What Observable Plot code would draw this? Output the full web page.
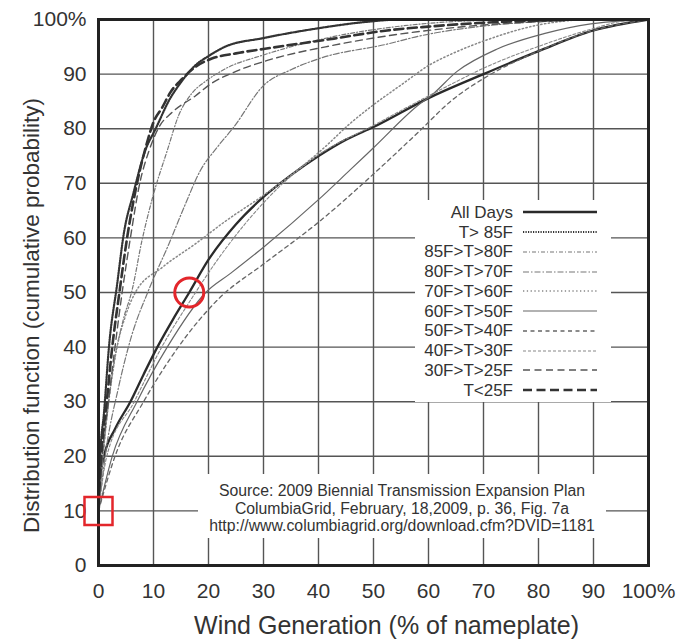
<!DOCTYPE html>
<html><head><meta charset="utf-8">
<script src="https://cdn.jsdelivr.net/npm/d3@7"></script>
<script src="https://cdn.jsdelivr.net/npm/@observablehq/plot@0.6"></script>
<style>
body{margin:0;background:#fff;font-family:"Liberation Sans",Arial,sans-serif;}
#wrap{position:relative;width:690px;height:643px;overflow:hidden;}
.box{position:absolute;background:#fff;color:#333;}
.lg-label{position:absolute;right:98px;white-space:nowrap;font-size:17px;line-height:17px;text-align:right;}
.lg-line{position:absolute;}
.src{position:absolute;left:0;width:100%;text-align:center;font-size:15.8px;line-height:18px;white-space:nowrap;}
</style></head>
<body><div id="wrap"></div>
<script>
// ---- data ----
const xTicks = [0,10,20,30,40,50,60,70,80,90,100];
const yTicks = [0,10,20,30,40,50,60,70,80,90,100];
const seriesNames = ["All Days","T> 85F","85F>T>80F","80F>T>70F","70F>T>60F","60F>T>50F","50F>T>40F","40F>T>30F","30F>T>25F","T<25F"];

const allDays = [[0,10],[0.3,16],[1,20],[3,25],[5.8,30],[8.2,35],[10.7,40],[13.5,45],[16.5,50],[20,56],[25,62.5],[30,67.5],[35,71.5],[40,75],[45,78],[50,80.3],[60,85.6],[70,90],[80,94.2],[90,98],[100,100]];
const tOver85 = [[0,12],[0.3,20],[1,28],[1.9,40],[3.4,51.6],[4.6,60.8],[6.3,68],[8.5,76],[10.4,80],[13,85.5],[15,88.5],[17.6,91.6],[20,93.3],[23,95],[30,96.6],[40,98.4],[49,99.6],[55,100],[100,100]];
const t85to80 = [[0,10],[1,22],[2.5,35],[4.5,45],[6.1,50.4],[7.9,59.5],[10,68],[12.5,76],[14.6,82.5],[17,86.5],[19.5,88.7],[23.1,91],[30,93.5],[41,96.5],[55,98.8],[70,99.8],[100,100]];
const t80to70 = [[0,10],[1.5,22],[3.5,32],[6,42],[9.1,50.4],[12.8,58.9],[15.8,66.2],[18.5,72.3],[21.5,76.5],[24.6,80.3],[30,87.9],[35,90.8],[40,92.8],[52.5,95.5],[58.5,97],[70,98.8],[80,99.6],[90,100],[100,100]];
const t70to60 = [[0,10],[1,22],[3,38],[5,46],[6.7,50],[11.6,54.6],[17.6,58.9],[23,63],[30,67.8],[35,71.5],[41,76.5],[45.8,81],[49.5,84],[55,88],[60.4,91.8],[64,93.6],[70.7,96.3],[80,99],[90,100],[100,100]];
const t60to50 = [[0,10],[2.5,20],[7,30],[12.5,40],[19.5,50],[24,53.5],[30,58.3],[40,67],[45.8,72.5],[50,76.5],[58.5,84.6],[60.4,86],[65.2,90.5],[72.5,94.6],[81,97.4],[89.5,99.2],[96,99.8],[100,100]];
const t50to40 = [[0,10],[3,20],[8.2,30],[14.5,40],[22,49],[30,55.2],[40.4,63.2],[50,71.7],[58.5,79.7],[64,85],[70.7,89.6],[80,94.2],[90,98],[100,100]];
const t40to30 = [[0,10],[1.5,20],[6.5,30],[11.5,40],[17,49],[22,56.5],[27,63],[33,69.5],[40,75.2],[50,80.6],[60,86],[65.2,88.7],[70.7,91.4],[79.8,95],[89.5,98.2],[96,99.8],[100,100]];
const t30to25 = [[0,10],[0.5,18],[1.8,30],[3,40],[4.3,50],[5.8,60],[7.5,70],[9.2,76],[11,80.3],[13.4,83],[17.6,86],[20.4,88.2],[25,90.5],[30.7,92.5],[42.8,95.3],[52.5,97],[60,98],[70,99],[80,99.6],[90,100],[100,100]];
const tUnder25 = [[0,11],[0.5,20],[1.5,30],[2.5,40],[3.8,50],[5.2,60],[7,70],[8.7,77],[10,81.2],[11.6,83.9],[13.1,86.7],[15.2,89.1],[17.6,91.3],[20.5,92.8],[25,93.8],[30,94.6],[42.8,96.5],[52.5,98],[60,98.7],[70,99.4],[80,99.8],[90,100],[100,100]];
const seriesValues = [allDays,tOver85,t85to80,t80to70,t70to60,t60to50,t50to40,t40to30,t30to25,tUnder25];

const highlightCircle = [[16.5,50]];
const highlightSquare = [[0,10]];
const xTitle = "Wind Generation (% of nameplate)";
const yTitle = "Distribution function (cumulative probability)";
const sourceLines = ["Source: 2009 Biennial Transmission Expansion Plan","ColumbiaGrid, February, 18,2009, p. 36, Fig. 7a","http://www.columbiagrid.org/download.cfm?DVID=1181"];

// ---- styles ----
const styles = [
  {stroke:"#2a2a2a", width:2.3, dash:null},
  {stroke:"#333", width:2.2, dash:"1.2,1.3"},
  {stroke:"#777", width:1.2, dash:"4,2,1,2"},
  {stroke:"#777", width:1.2, dash:"6,2,1.5,2"},
  {stroke:"#888", width:1.5, dash:"1.3,2.5"},
  {stroke:"#666", width:1.2, dash:null},
  {stroke:"#666", width:1.3, dash:"4,3.5"},
  {stroke:"#888", width:1.1, dash:"3,2"},
  {stroke:"#555", width:1.4, dash:"7,4.5"},
  {stroke:"#333", width:2.6, dash:"9,4.5"}
];

const table = seriesNames.flatMap((name,i) => seriesValues[i].map(([x,y]) => ({name, x, y})));

const lineMarks = seriesNames.map((name,i) => Plot.line(table.filter(d => d.name === name), {
  x:"x", y:"y", curve:"monotone-x",
  stroke: styles[i].stroke, strokeWidth: styles[i].width,
  strokeDasharray: styles[i].dash || undefined
}));

const fmt = d => d === 100 ? "100%" : String(d);

const chart = Plot.plot({
  width:690, height:643,
  marginLeft:98, marginRight:42, marginTop:19, marginBottom:78,
  x:{domain:[0,100]}, y:{domain:[0,100]},
  style:{fontFamily:'"Liberation Sans", Arial, sans-serif', background:"#fff", color:"#333", fontSize:"21px"},
  marks:[
    Plot.gridX(xTicks, {stroke:"#555", strokeOpacity:1, strokeWidth:1.4}),
    Plot.gridY(yTicks, {stroke:"#555", strokeOpacity:1, strokeWidth:1.4}),
    ...lineMarks,
    Plot.frame({stroke:"#222", strokeWidth:3}),
    Plot.axisX(xTicks, {tickSize:0, tickPadding:18, tickFormat:fmt, fontSize:21, fill:"#333", label:null}),
    Plot.axisY(yTicks, {tickSize:0, tickPadding:12, tickFormat:fmt, fontSize:21, fill:"#333", label:null}),
    Plot.dot(highlightCircle, {x:d=>d[0], y:d=>d[1], r:14.5, stroke:"#e3262b", strokeWidth:3, fill:"none"}),
    Plot.dot(highlightSquare, {x:d=>d[0], y:d=>d[1], r:15.8, symbol:"square", stroke:"#e3262b", strokeWidth:2.5, fill:"none"}),
    Plot.text([xTitle], {text:d=>d, frameAnchor:"bottom", textAnchor:"middle", dy:68, dx:13, fontSize:25, fill:"#333"}),
    Plot.text([yTitle], {text:d=>d, frameAnchor:"left", textAnchor:"middle", rotate:-90, dx:-67, dy:23, fontSize:22.5, fill:"#333"})
  ]
});

const wrap = document.getElementById("wrap");
wrap.appendChild(chart);

// legend
const lg = document.createElement("div");
lg.className = "box";
Object.assign(lg.style, {left:"415px", top:"200px", width:"196px", height:"202px"});
seriesNames.forEach((name,i) => {
  const cy = 12.3 + i*19.75;
  const lab = document.createElement("div");
  lab.className = "lg-label";
  lab.textContent = name;
  lab.style.top = (cy - 8.5) + "px";
  lg.appendChild(lab);
  const svg = d3.create("svg").attr("class","lg-line").attr("width",80).attr("height",10)
    .style("left","106px").style("top",(cy-5)+"px");
  svg.append("line").attr("x1",2).attr("x2",76).attr("y1",5).attr("y2",5)
    .attr("stroke",styles[i].stroke).attr("stroke-width",styles[i].width)
    .attr("stroke-dasharray",styles[i].dash);
  lg.appendChild(svg.node());
});
wrap.appendChild(lg);

// source note
const src = document.createElement("div");
src.className = "box";
Object.assign(src.style, {left:"198px", top:"474px", width:"408px", height:"64px"});
sourceLines.forEach((t,i) => {
  const s = document.createElement("div");
  s.className = "src";
  s.textContent = t;
  s.style.top = (8 + i*17.5) + "px";
  src.appendChild(s);
});
wrap.appendChild(src);
</script>
</body></html>
